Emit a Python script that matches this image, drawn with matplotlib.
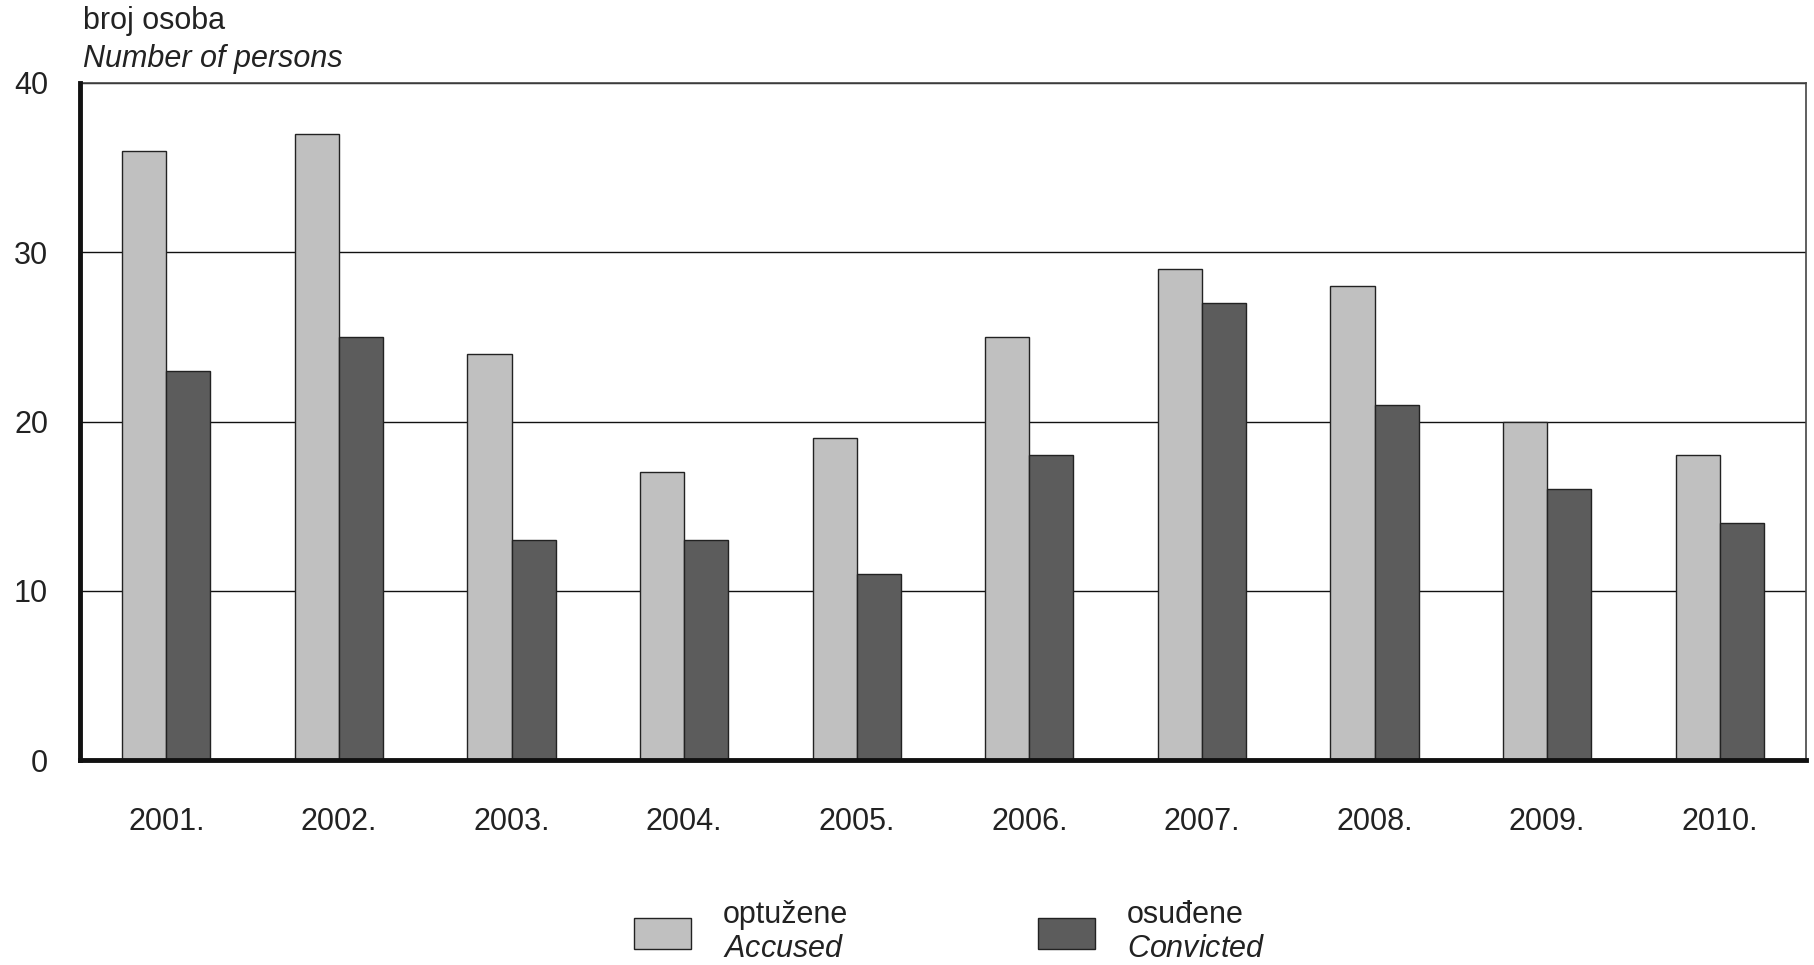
import matplotlib
matplotlib.use("Agg")
import matplotlib.pyplot as plt
import numpy as np

years = ["2001.", "2002.", "2003.", "2004.", "2005.", "2006.", "2007.", "2008.", "2009.", "2010."]
accused = [36, 37, 24, 17, 19, 25, 29, 28, 20, 18]
convicted = [23, 25, 13, 13, 11, 18, 27, 21, 16, 14]
y_ticks = [0, 10, 20, 30, 40]

FONT = ["Liberation Sans", "DejaVu Sans"]
plt.rcParams["font.family"] = FONT
plt.rcParams["mathtext.fontset"] = "custom"
plt.rcParams["mathtext.it"] = "Liberation Sans:italic"
plt.rcParams["mathtext.rm"] = "Liberation Sans"

LIGHT = "#c0c0c0"
DARK = "#5c5c5c"
FS = 22

fig = plt.figure(figsize=(18.14, 9.65), dpi=100)
ax = fig.add_axes([0.0441, 0.2124, 0.9515, 0.7016])

x = np.arange(len(years))
w = 0.255
b1 = ax.bar(x - w / 2, accused, w, color=LIGHT, edgecolor="#222222", linewidth=1.0, zorder=3)
b2 = ax.bar(x + w / 2, convicted, w, color=DARK, edgecolor="#222222", linewidth=1.0, zorder=3)

ax.set_xlim(-0.5, len(years) - 0.5)
ax.set_ylim(0, 40)
ax.set_yticks(y_ticks)
ax.set_yticklabels([str(t) for t in y_ticks], fontsize=FS)
ax.set_xticks(x)
ax.set_xticklabels(years, fontsize=FS)
ax.tick_params(axis="both", length=0, colors="#222222")
ax.tick_params(axis="y", pad=23)
ax.tick_params(axis="x", pad=34)

ax.yaxis.grid(True, color="#111111", linewidth=1.0, zorder=0)
ax.set_axisbelow(True)

for side in ["top", "right"]:
    ax.spines[side].set_color("#444444")
    ax.spines[side].set_linewidth(1.2)
for side in ["left", "bottom"]:
    ax.spines[side].set_color("#111111")
    ax.spines[side].set_linewidth(3.5)
    ax.spines[side].set_zorder(5)

fig.text(0.0458, 0.978, "broj osoba", fontsize=FS, color="#222222", va="center")
fig.text(0.0458, 0.939, "Number of persons", fontsize=FS, style="italic",
         color="#222222", va="center")

fig.legend(
    [b1, b2],
    ["optužene\n$\\it{Accused}$", "osuđene\n$\\it{Convicted}$"],
    loc="center",
    bbox_to_anchor=(0.5235, 0.034),
    ncol=2,
    frameon=False,
    fontsize=FS,
    handlelength=1.86,
    handleheight=1.2,
    handletextpad=1.05,
    columnspacing=6.2,
    labelcolor="#222222",
)

fig.savefig("out.png", dpi=100)
